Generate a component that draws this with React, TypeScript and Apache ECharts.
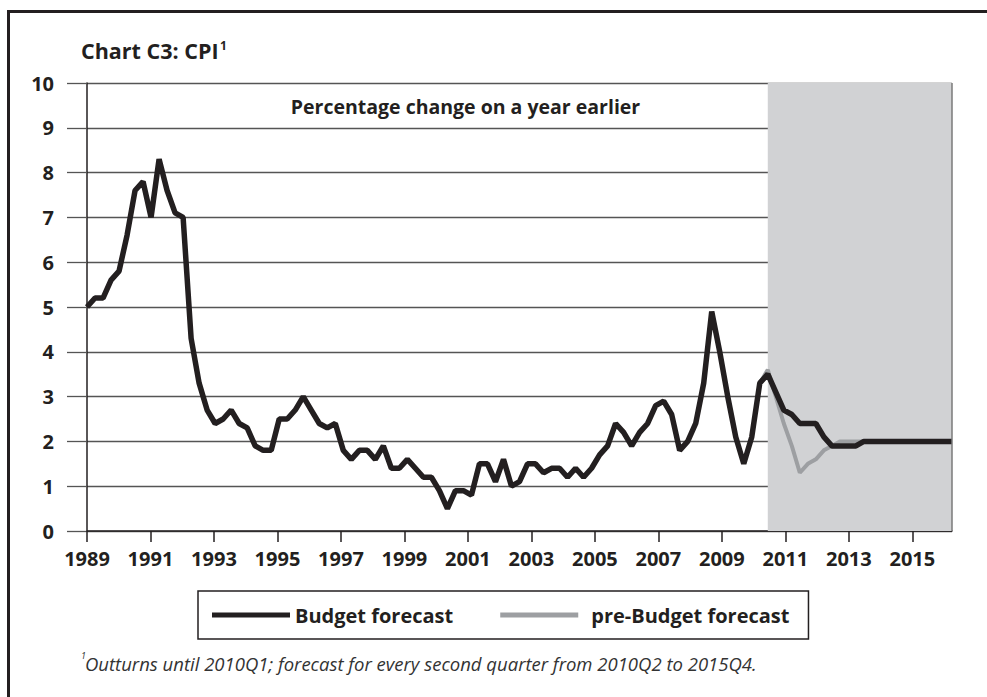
import React, { useEffect, useRef } from "react";
import * as echarts from "echarts";

// Quarterly categories 1989Q1 .. 2016Q1
const quarters: string[] = [];
for (let y = 1989; y <= 2016; y++) {
  for (let q = 1; q <= 4; q++) {
    if (quarters.length < 109) quarters.push(`${y}Q${q}`);
  }
}

// Outturns 1989Q1 .. 2010Q1 (CPI, % change on a year earlier)
const outturns = [
  5.0, 5.2, 5.2, 5.6, 5.8, 6.6, 7.6, 7.8, 7.0, 8.3, 7.6, 7.1, 7.0, 4.3, 3.3, 2.7,
  2.4, 2.5, 2.7, 2.4, 2.3, 1.9, 1.8, 1.8, 2.5, 2.5, 2.7, 3.0, 2.7, 2.4, 2.3, 2.4,
  1.8, 1.6, 1.8, 1.8, 1.6, 1.9, 1.4, 1.4, 1.6, 1.4, 1.2, 1.2, 0.9, 0.5, 0.9, 0.9,
  0.8, 1.5, 1.5, 1.1, 1.6, 1.0, 1.1, 1.5, 1.5, 1.3, 1.4, 1.4, 1.2, 1.4, 1.2, 1.4,
  1.7, 1.9, 2.4, 2.2, 1.9, 2.2, 2.4, 2.8, 2.9, 2.6, 1.8, 2.0, 2.4, 3.3, 4.9, 4.0,
  3.0, 2.1, 1.5, 2.1, 3.3,
];

// Forecasts 2010Q2 .. 2016Q1
const budgetForecast = [
  3.5, 3.1, 2.7, 2.6, 2.4, 2.4, 2.4, 2.1, 1.9, 1.9, 1.9, 1.9,
  2.0, 2.0, 2.0, 2.0, 2.0, 2.0, 2.0, 2.0, 2.0, 2.0, 2.0, 2.0,
];
const preBudgetForecast = [
  3.6, 3.0, 2.4, 1.9, 1.3, 1.5, 1.6, 1.8, 1.9, 2.0, 2.0, 2.0,
  2.0, 2.0, 2.0, 2.0, 2.0, 2.0, 2.0, 2.0, 2.0, 2.0, 2.0, 2.0,
];

const yearTicks = [1989, 1991, 1993, 1995, 1997, 1999, 2001, 2003, 2005, 2007, 2009, 2011, 2013, 2015];
const yTicks = [0, 1, 2, 3, 4, 5, 6, 7, 8, 9, 10];

const FONT = '"Open Sans", "Noto Sans", sans-serif';
const INK = "#231f20";

export default function App() {
  const ref = useRef<HTMLDivElement>(null);

  useEffect(() => {
    document.body.style.margin = "0";
    document.body.style.overflow = "hidden";
    if (!ref.current) return;
    const chart = echarts.init(ref.current, undefined, { renderer: "svg" });

    const budget = [...outturns, ...budgetForecast];
    const lastOut = outturns.length - 1;
    const preBudget = quarters.map((_, i) =>
      i < lastOut ? null : i === lastOut ? outturns[lastOut] : preBudgetForecast[i - outturns.length]
    );

    chart.setOption({
      animation: false,
      backgroundColor: "transparent",
      textStyle: { fontFamily: FONT },
      grid: { left: 87, right: 35, top: 83, bottom: 166, containLabel: false },
      legend: {
        data: [
          { name: "Budget forecast" },
          { name: "pre-Budget forecast", textStyle: { padding: [0, 0, 0, 8] } },
        ],
        left: 198,
        top: 591,
        orient: "horizontal",
        icon: "rect",
        itemWidth: 78,
        itemHeight: 5,
        itemGap: 47,
        padding: [13, 19, 13, 14],
        borderColor: INK,
        borderWidth: 1.5,
        textStyle: { fontSize: 20, fontWeight: "bold", color: INK, fontFamily: FONT, lineHeight: 22 },
      },
      xAxis: [
        {
          type: "category",
          data: quarters,
          boundaryGap: false,
          show: false,
        },
        {
          type: "value",
          min: 1989,
          max: 2016.25,
          position: "bottom",
          axisLine: { show: true, lineStyle: { color: INK, width: 1.5 } },
          axisTick: { show: true, length: 11, customValues: yearTicks, lineStyle: { color: INK, width: 1.5 } },
          axisLabel: {
            customValues: yearTicks,
            margin: 17,
            fontSize: 20,
            fontWeight: "bold",
            color: INK,
            fontFamily: FONT,
            formatter: (v: number) => String(v),
          },
          splitLine: { show: false },
        },
      ],
      yAxis: {
        type: "value",
        min: yTicks[0],
        max: yTicks[yTicks.length - 1],
        interval: 1,
        axisLine: { show: true, lineStyle: { color: INK, width: 1.5 } },
        axisTick: { show: true, length: 20, lineStyle: { color: "#555", width: 1.3 } },
        axisLabel: { margin: 33, fontSize: 20, fontWeight: "bold", color: INK, fontFamily: FONT },
        splitLine: { show: true, lineStyle: { color: "#555", width: 1.3 } },
      },
      series: [
        {
          name: "shade",
          type: "line",
          data: [],
          z: -1,
          xAxisIndex: 0,
          markArea: {
            silent: true,
            itemStyle: { color: "#d1d2d4" },
            data: [[{ xAxis: "2010Q2" }, { xAxis: "2016Q1" }]],
          },
          markLine: {
            silent: true,
            symbol: ["none", "none"],
            label: { show: false },
            lineStyle: { color: "#7a7a7a", width: 1.5, type: "solid" },
            data: [{ xAxis: "2016Q1" }],
          },
        },
        {
          name: "pre-Budget forecast",
          type: "line",
          xAxisIndex: 0,
          data: preBudget,
          color: "#9d9fa2",
          showSymbol: false,
          lineStyle: { width: 4, color: "#9d9fa2" },
          z: 3,
        },
        {
          name: "Budget forecast",
          type: "line",
          xAxisIndex: 0,
          data: budget,
          color: INK,
          showSymbol: false,
          lineStyle: { width: 5.5, color: INK },
          z: 4,
        },
      ],
      graphic: [
        {
          type: "text",
          x: 81,
          y: 50,
          style: {
            text: "Chart C3: CPI",
            fontSize: 21.5,
            fontWeight: "bold",
            fontFamily: FONT,
            fill: INK,
            textVerticalAlign: "middle",
          },
        },
        {
          type: "text",
          x: 220,
          y: 45,
          style: { text: "1", fontSize: 12, fontWeight: "bold", fontFamily: FONT, fill: INK, textVerticalAlign: "middle" },
        },
        {
          type: "text",
          x: 465.5,
          y: 106,
          style: {
            text: "Percentage change on a year earlier",
            fontSize: 19.5,
            fontWeight: "bold",
            fontFamily: FONT,
            fill: INK,
            textAlign: "center",
            textVerticalAlign: "middle",
          },
        },
        {
          type: "text",
          x: 864.5,
          y: 106,
          style: {
            text: "Forecasts",
            fontSize: 19.5,
            fontWeight: "bold",
            fontFamily: FONT,
            fill: INK,
            textAlign: "center",
            textVerticalAlign: "middle",
          },
        },
        {
          type: "text",
          x: 81,
          y: 655,
          style: { text: "1", fontSize: 9, fontStyle: "italic", fontFamily: FONT, fill: "#333", textVerticalAlign: "middle" },
        },
        {
          type: "text",
          x: 85,
          y: 663,
          style: {
            text: "Outturns until 2010Q1; forecast for every second quarter from 2010Q2 to 2015Q4.",
            fontSize: 18.5,
            fontStyle: "italic",
            fontFamily: FONT,
            fill: "#333",
            textVerticalAlign: "middle",
          },
        },
      ],
    });

    return () => chart.dispose();
  }, []);

  return (
    <div
      style={{
        position: "absolute",
        left: 0,
        top: 0,
        width: 987,
        height: 697,
        background: "#fff",
        overflow: "hidden",
      }}
    >
      <div
        style={{
          position: "absolute",
          left: 7.2,
          top: 9.5,
          width: 2000,
          height: 2000,
          borderLeft: `3px solid ${INK}`,
          borderTop: `3px solid ${INK}`,
        }}
      />
      <div ref={ref} style={{ position: "absolute", left: 0, top: 0, width: 987, height: 697 }} />
    </div>
  );
}
